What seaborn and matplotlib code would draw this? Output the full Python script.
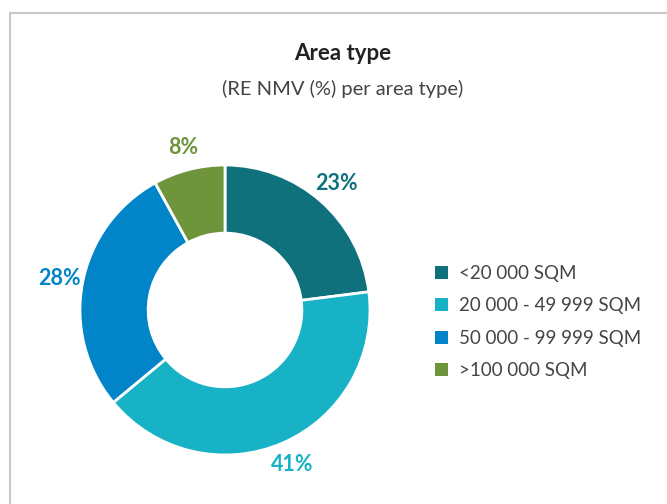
import seaborn as sns
import matplotlib.pyplot as plt
from matplotlib.patches import Patch, Rectangle

# data
categories = ["<20 000 SQM", "20 000 - 49 999 SQM", "50 000 - 99 999 SQM", ">100 000 SQM"]
shares = [23, 41, 28, 8]
colors = ["#0e717c", "#17b2c6", "#0284c8", "#6e943c"]

sns.set_theme(style="white")
plt.rcParams['font.family'] = ['Lato', 'DejaVu Sans']

fig = plt.figure(figsize=(6.67, 5.04), dpi=100)
fig.patch.set_facecolor("white")

# card border (left + top)
fig.patches.append(Rectangle((9.5 / 667, -0.1), 1.2, 1 - 13 / 504 + 0.1,
                             transform=fig.transFigure, fill=False,
                             edgecolor="#c8c8c8", lw=1.5))

fig.text(343 / 667, 1 - 53 / 504, "Area type", ha="center", va="center",
         fontsize=16, fontweight="bold", color="#222222")
fig.text(343 / 667, 1 - 89 / 504, "(RE NMV (%) per area type)", ha="center", va="center",
         fontsize=14.5, color="#444444")

ax = fig.add_axes([43.75 / 667, 12.75 / 504, 362.5 / 667, 362.5 / 504])
wedges, texts, autotexts = ax.pie(
    shares, colors=colors, startangle=90, counterclock=False,
    autopct=lambda p: f"{p:.0f}%", pctdistance=1.16,
    wedgeprops=dict(width=0.47, edgecolor="white", linewidth=2))
for t, c in zip(autotexts, colors):
    t.set_color(c)
    t.set_fontsize(15.5)
    t.set_fontweight("bold")
ax.set_xlim(-1.25, 1.25)
ax.set_ylim(-1.25, 1.25)
ax.set_aspect("equal")
ax.axis("off")

handles = [Patch(facecolor=c, edgecolor="none") for c in colors]
leg = fig.legend(handles, categories, loc="center left",
                 bbox_to_anchor=(418 / 667, 1 - 322 / 504), frameon=False,
                 fontsize=13.5, handlelength=0.7, handleheight=0.7,
                 handletextpad=0.6, labelspacing=0.82)
for t in leg.get_texts():
    t.set_color("#444444")

plt.savefig("out.png", dpi=100)
plt.close()
